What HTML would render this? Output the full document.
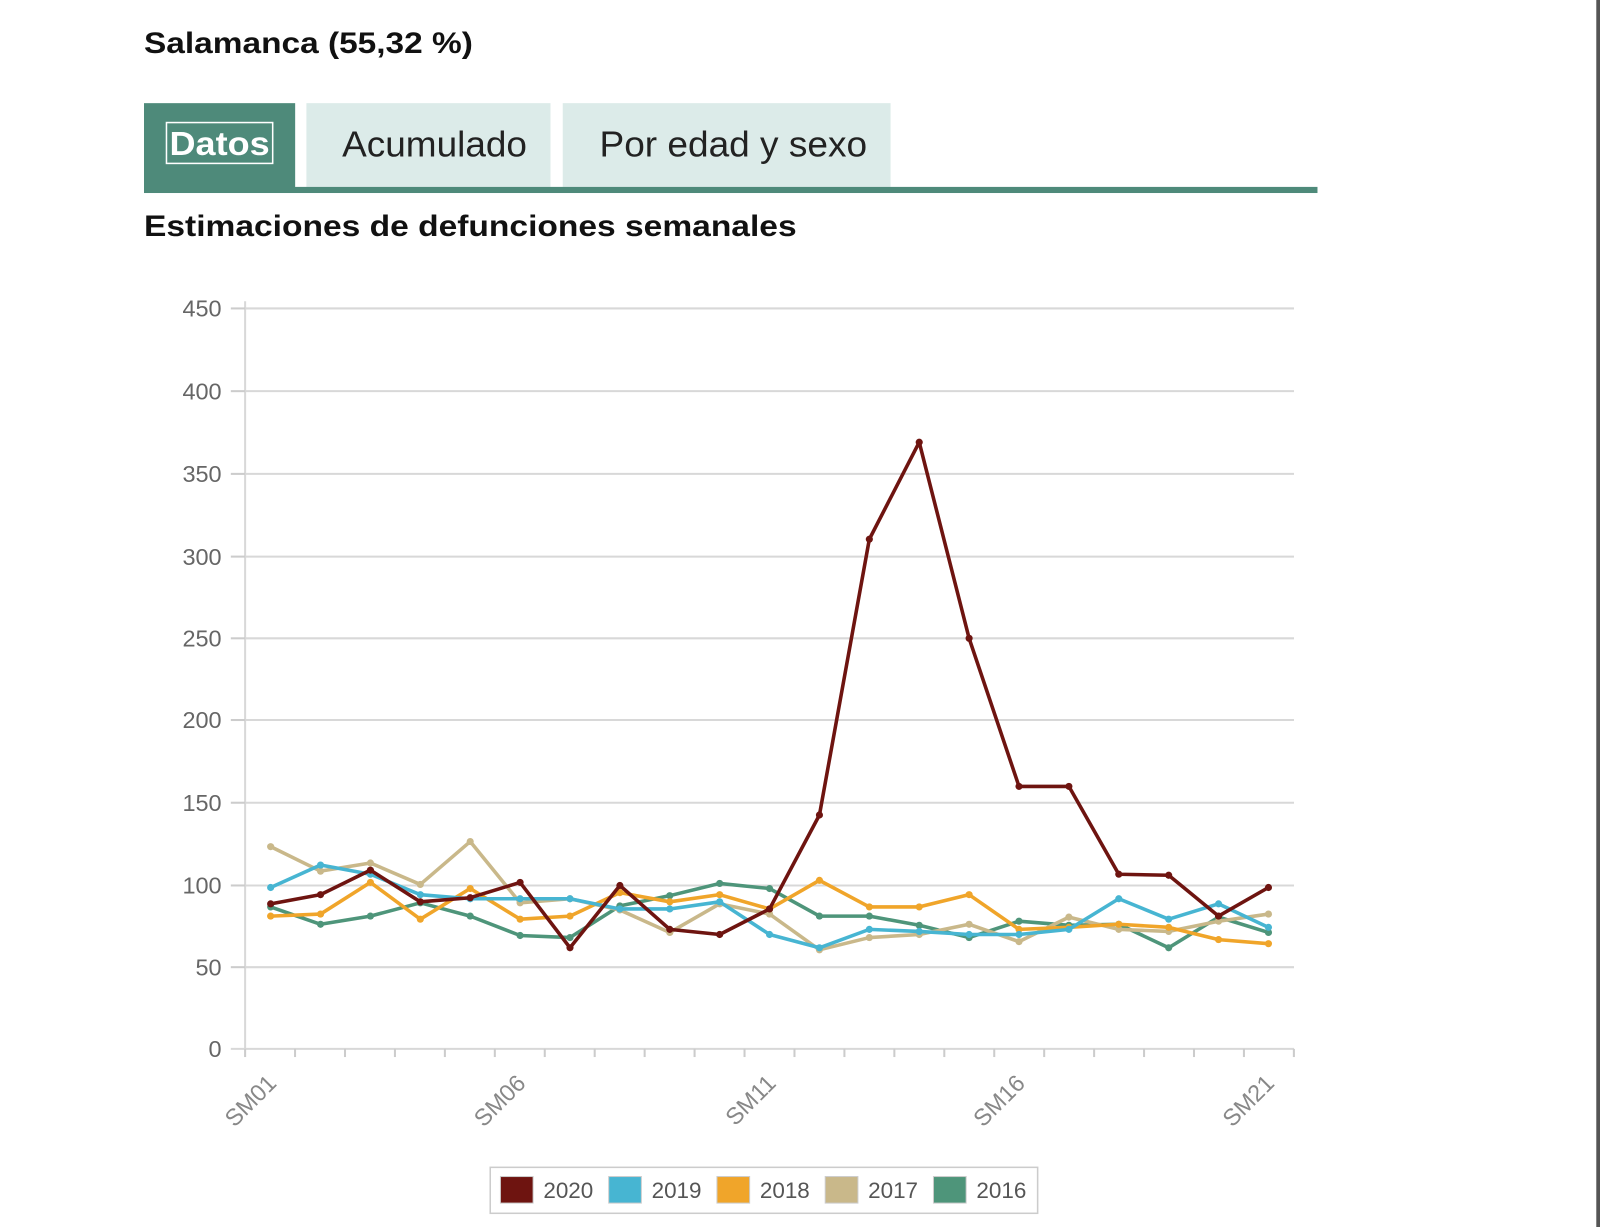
<!DOCTYPE html><html><head><style>body{margin:0;background:#fff;font-family:"Liberation Sans",sans-serif}</style></head><body>
<svg width="1600" height="1227" xmlns="http://www.w3.org/2000/svg" font-family="Liberation Sans, sans-serif">
<g transform="scale(1.0213)">
<rect x="1563" y="0" width="4" height="1227" fill="#555"/>
<text x="141" y="52" font-size="29" font-weight="bold" fill="#111" textLength="322" lengthAdjust="spacingAndGlyphs">Salamanca (55,32 %)</text>
<rect x="141" y="101" width="148" height="84" fill="#4e8a7a"/>
<rect x="163" y="120" width="104" height="40" fill="none" stroke="#fff" stroke-width="1.5"/>
<text x="215" y="152" font-size="33" font-weight="bold" fill="#fff" text-anchor="middle" textLength="98" lengthAdjust="spacingAndGlyphs">Datos</text>
<rect x="300" y="101" width="239" height="82" fill="#dcebe9"/>
<text x="335" y="153" font-size="35" fill="#222" textLength="181" lengthAdjust="spacingAndGlyphs">Acumulado</text>
<rect x="551" y="101" width="321" height="82" fill="#dcebe9"/>
<text x="587" y="153" font-size="35" fill="#222" textLength="262" lengthAdjust="spacingAndGlyphs">Por edad y sexo</text>
<rect x="141" y="183" width="1149" height="6" fill="#4e8a7a"/>
<text x="141" y="231" font-size="29" font-weight="bold" fill="#111" textLength="639" lengthAdjust="spacingAndGlyphs">Estimaciones de defunciones semanales</text>
<g stroke="#d8d8d8" stroke-width="2">
<line x1="240" x2="1267" y1="302" y2="302"/><line x1="240" x2="1267" y1="383" y2="383"/><line x1="240" x2="1267" y1="464" y2="464"/><line x1="240" x2="1267" y1="545" y2="545"/><line x1="240" x2="1267" y1="625" y2="625"/><line x1="240" x2="1267" y1="705" y2="705"/><line x1="240" x2="1267" y1="786" y2="786"/><line x1="240" x2="1267" y1="867" y2="867"/><line x1="240" x2="1267" y1="947" y2="947"/><line x1="226" x2="1267" y1="1027" y2="1027"/>
<line x1="240" x2="240" y1="295" y2="1027"/>
</g>
<g stroke="#ccc" stroke-width="2">
<line x1="226" x2="240" y1="302" y2="302"/><line x1="226" x2="240" y1="383" y2="383"/><line x1="226" x2="240" y1="464" y2="464"/><line x1="226" x2="240" y1="545" y2="545"/><line x1="226" x2="240" y1="625" y2="625"/><line x1="226" x2="240" y1="705" y2="705"/><line x1="226" x2="240" y1="786" y2="786"/><line x1="226" x2="240" y1="867" y2="867"/><line x1="226" x2="240" y1="947" y2="947"/>
</g>
<g font-size="23" fill="#666" text-anchor="end">
<text x="217" y="310">450</text><text x="217" y="391">400</text><text x="217" y="472">350</text><text x="217" y="553">300</text><text x="217" y="633">250</text><text x="217" y="713">200</text><text x="217" y="794">150</text><text x="217" y="875">100</text><text x="217" y="955">50</text><text x="217" y="1035">0</text>
</g>
<g stroke="#ccc" stroke-width="2" id="xt"></g>
<g font-size="23" fill="#888" text-anchor="end">
<text transform="translate(272,1062) rotate(-45)">SM01</text>
<text transform="translate(516,1062) rotate(-45)">SM06</text>
<text transform="translate(761,1062) rotate(-45)">SM11</text>
<text transform="translate(1005,1062) rotate(-45)">SM16</text>
<text transform="translate(1249,1062) rotate(-45)">SM21</text>
</g>
<g id="series" fill="none" stroke-width="3.5" stroke-linejoin="round"></g>
<rect x="480" y="1143" width="536" height="45" fill="#fff" stroke="#ccc" stroke-width="1.5"/>
<g font-size="22" fill="#555">
<rect x="490" y="1152" width="32" height="26" fill="#6e1410" stroke="#ccc"/><text x="532" y="1173">2020</text>
<rect x="596" y="1152" width="32" height="26" fill="#47b5d2" stroke="#ccc"/><text x="638" y="1173">2019</text>
<rect x="702" y="1152" width="32" height="26" fill="#f0a52a" stroke="#ccc"/><text x="744" y="1173">2018</text>
<rect x="808" y="1152" width="32" height="26" fill="#c9b88a" stroke="#ccc"/><text x="850" y="1173">2017</text>
<rect x="914" y="1152" width="32" height="26" fill="#4e957a" stroke="#ccc"/><text x="956" y="1173">2016</text>
</g>
</g>
</svg>
<script>
var ns="http://www.w3.org/2000/svg";
var xt=document.getElementById('xt');
for(var i=0;i<=21;i++){var x=240+i*48.9;var l=document.createElementNS(ns,'line');l.setAttribute('x1',x);l.setAttribute('x2',x);l.setAttribute('y1',1027);l.setAttribute('y2',1035);xt.appendChild(l);}
var S=[
["#4e957a",[888,905,897,884,897,916,918,887,877,865,870,897,897,906,918,902,906,905,928,898,913]],
["#c9b88a",[829,853,845,866,824,884,880,891,913,885,895,930,918,915,905,922,898,910,912,902,895]],
["#f0a52a",[897,895,864,900,870,900,897,874,883,876,890,862,888,888,876,910,908,905,908,920,924]],
["#47b5d2",[869,847,856,876,880,880,880,890,890,883,915,928,910,912,915,915,910,880,900,885,908]],
["#6e1410",[885,876,852,883,879,864,928,867,910,915,890,798,528,433,625,770,770,856,857,897,869]]];
var g=document.getElementById('series');
S.forEach(function(s){var p=s[1].map(function(y,i){return (265+i*48.85)+','+y}).join(' ');
var pl=document.createElementNS(ns,'polyline');pl.setAttribute('points',p);pl.setAttribute('stroke',s[0]);g.appendChild(pl);
s[1].forEach(function(y,i){var c=document.createElementNS(ns,'circle');c.setAttribute('cx',265+i*48.85);c.setAttribute('cy',y);c.setAttribute('r',3.5);c.setAttribute('fill',s[0]);g.appendChild(c);});});
</script>
</body></html>
